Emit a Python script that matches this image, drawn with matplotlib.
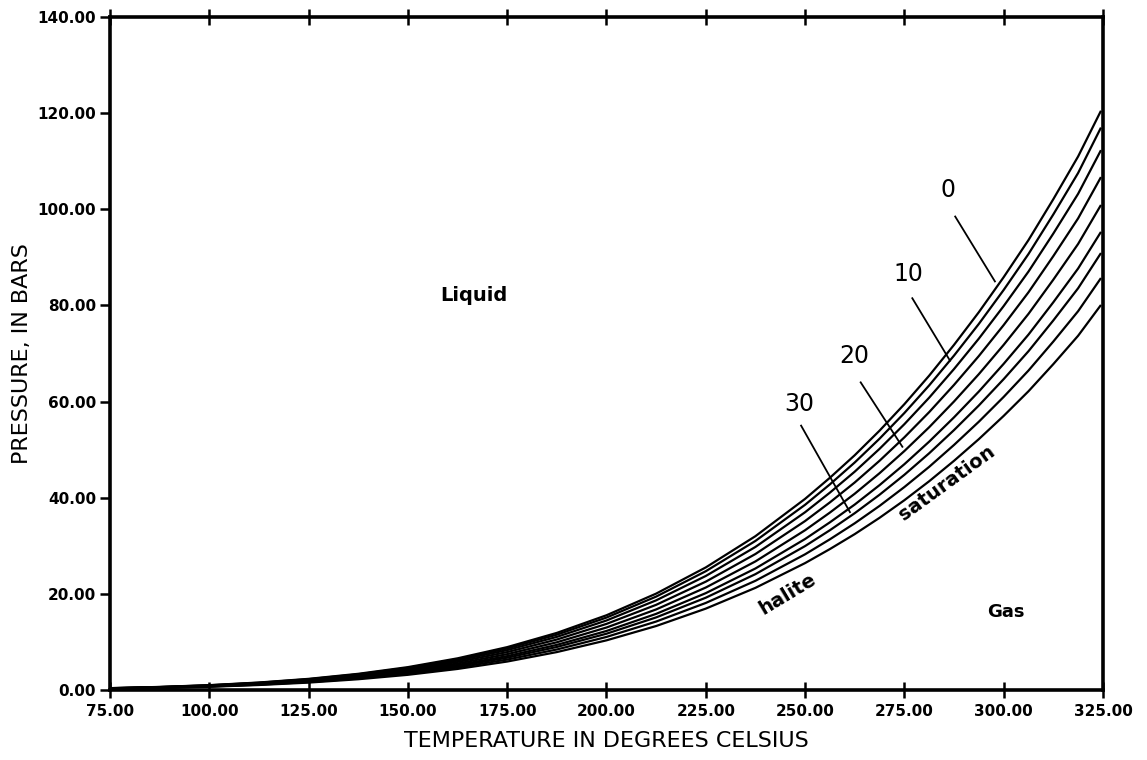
import matplotlib
matplotlib.use("Agg")
import matplotlib.pyplot as plt
from matplotlib.ticker import FormatStrFormatter

# Temperature (deg C) sample points
temps = [75, 87.5, 100, 112.5, 125, 137.5, 150, 162.5, 175, 187.5, 200, 212.5, 225, 237.5,
         250, 256.25, 262.5, 268.75, 275, 281.25, 287.5, 293.75, 300, 306.25, 312.5, 318.75, 324.5]

# Vapor-pressure curves (bars), top (0) to bottom (halite saturation)
p_c0 = [0.39, 0.64, 1.01, 1.56, 2.32, 3.37, 4.76, 6.59, 8.92, 11.88, 15.55, 20.05, 25.5, 32.0,
        39.76, 44.15, 48.84, 53.95, 59.46, 65.4, 71.8, 78.6, 85.88, 93.6, 102.1, 111.0, 120.5]
p_c1 = [0.38, 0.62, 0.98, 1.51, 2.25, 3.27, 4.61, 6.39, 8.64, 11.51, 15.07, 19.43, 24.71, 31.01,
        38.53, 42.78, 47.33, 52.28, 57.62, 63.37, 69.57, 76.16, 83.22, 90.70, 98.93, 107.56, 117.0]
p_c2 = [0.36, 0.60, 0.94, 1.45, 2.16, 3.13, 4.43, 6.13, 8.30, 11.05, 14.46, 18.65, 23.72, 29.76,
        36.98, 41.06, 45.42, 50.17, 55.30, 60.82, 66.77, 73.10, 79.87, 87.05, 94.95, 103.23, 112.3]
p_c3 = [0.34, 0.57, 0.89, 1.38, 2.05, 2.98, 4.21, 5.83, 7.89, 10.50, 13.75, 17.72, 22.54, 28.29,
        35.15, 39.03, 43.17, 47.69, 52.56, 57.81, 63.47, 69.48, 75.92, 82.74, 90.26, 98.12, 106.7]
p_c4 = [0.33, 0.54, 0.84, 1.30, 1.94, 2.82, 3.98, 5.51, 7.46, 9.93, 13.00, 16.76, 21.32, 26.75,
        33.24, 36.91, 40.83, 45.10, 49.71, 54.67, 60.02, 65.71, 71.80, 78.25, 85.36, 92.80, 100.9]
p_c5 = [0.31, 0.51, 0.80, 1.23, 1.83, 2.66, 3.76, 5.21, 7.05, 9.39, 12.28, 15.84, 20.15, 25.28,
        31.41, 34.88, 38.58, 42.62, 46.97, 51.67, 56.72, 62.09, 67.85, 73.94, 80.66, 87.69, 95.3]
p_c6 = [0.29, 0.48, 0.76, 1.17, 1.75, 2.54, 3.58, 4.96, 6.72, 8.95, 11.71, 15.10, 19.20, 24.10,
        29.94, 33.24, 36.78, 40.62, 44.77, 49.25, 54.07, 59.19, 64.67, 70.48, 76.88, 83.58, 90.9]
p_c7 = [0.28, 0.45, 0.72, 1.11, 1.65, 2.39, 3.38, 4.68, 6.33, 8.43, 11.04, 14.24, 18.11, 22.72,
        28.23, 31.35, 34.68, 38.30, 42.22, 46.43, 50.98, 55.81, 60.97, 66.46, 72.49, 78.81, 85.7]
p_c8 = [0.26, 0.42, 0.67, 1.04, 1.54, 2.24, 3.16, 4.38, 5.92, 7.89, 10.33, 13.31, 16.93, 21.25,
        26.40, 29.32, 32.43, 35.82, 39.48, 43.43, 47.68, 52.19, 57.02, 62.15, 67.79, 73.70, 80.1]
curves = [p_c0, p_c1, p_c2, p_c3, p_c4, p_c5, p_c6, p_c7, p_c8]

x_ticks = [75, 100, 125, 150, 175, 200, 225, 250, 275, 300, 325]
y_ticks = [0, 20, 40, 60, 80, 100, 120, 140]

# Curve labels: text, label position, leader start, leader end
curve_labels = ["0", "10", "20", "30"]
label_pos = [(286.0, 101.5), (276.0, 84.0), (262.5, 67.0), (248.5, 57.0)]
leader_start = [(287.8, 98.5), (277.0, 81.5), (264.0, 64.0), (249.0, 55.0)]
leader_end = [(297.8, 85.0), (286.5, 68.5), (274.5, 50.6), (261.3, 37.0)]

fig = plt.figure(figsize=(11.47, 7.60), dpi=100)
ax = fig.add_axes([0.0959, 0.0921, 0.8657, 0.8855])

for p in curves:
    ax.plot(temps, p, color="black", lw=1.6, solid_capstyle="butt")

for txt, lp, ls, le in zip(curve_labels, label_pos, leader_start, leader_end):
    ax.text(lp[0], lp[1], txt, fontsize=17, ha="center", va="bottom", family="DejaVu Sans")
    ax.plot([ls[0], le[0]], [ls[1], le[1]], color="black", lw=1.3)

ax.text(166.5, 82.0, "Liquid", fontsize=14, fontweight="bold", ha="center", va="center")
ax.text(300.5, 16.2, "Gas", fontsize=13, fontweight="bold", ha="center", va="center")
ax.text(245.5, 20.0, "halite", fontsize=14, fontweight="bold", ha="center", va="center", rotation=31)
ax.text(285.7, 43.0, "saturation", fontsize=14, fontweight="bold", ha="center", va="center", rotation=36)

ax.set_xlim(75, 325)
ax.set_ylim(0, 140)
ax.set_xticks(x_ticks)
ax.set_yticks(y_ticks)
ax.xaxis.set_major_formatter(FormatStrFormatter("%.2f"))
ax.yaxis.set_major_formatter(FormatStrFormatter("%.2f"))
for s in ax.spines.values():
    s.set_linewidth(2.6)
ax.tick_params(axis="x", direction="inout", length=12, width=1.8, labelsize=11, pad=4, top=True)
ax.tick_params(axis="y", direction="out", length=7, width=1.8, labelsize=11, pad=3)
for lab in ax.get_xticklabels() + ax.get_yticklabels():
    lab.set_fontweight("bold")

ax.set_xlabel("TEMPERATURE IN DEGREES CELSIUS", fontsize=16, labelpad=9)
ax.set_ylabel("PRESSURE, IN BARS", fontsize=16, labelpad=4)

fig.savefig("out.png", dpi=100)
